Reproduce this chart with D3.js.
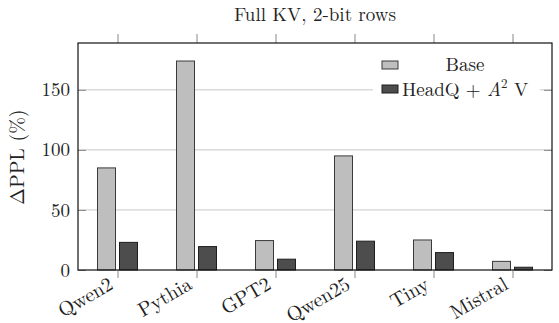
<!DOCTYPE html>
<html>
<head>
<meta charset="utf-8">
<script src="https://cdn.jsdelivr.net/npm/d3@7"></script>
<style>
  body { margin: 0; background: #fff; }
  text { font-family: "Latin Modern Roman", "Liberation Serif", serif; fill: #222; }
</style>
</head>
<body>
<svg width="559" height="323"></svg>
<script>
var models = ["Qwen2", "Pythia", "GPT2", "Qwen25", "Tiny", "Mistral"];
var baseVals = [85, 174, 24.5, 95, 25, 7.2];
var headqVals = [23, 19.5, 9, 24, 14.5, 2.3];
var seriesNames = ["Base", "HeadQ"];
var yTicks = [0, 50, 100, 150];

var svg = d3.select("svg"),
    pLeft = 78, pRight = 552, pTop = 43, pBottom = 270;

var x = d3.scaleLinear().domain([-0.5, models.length - 0.5]).range([pLeft, pRight]);
var y = d3.scaleLinear().domain([0, 189]).range([pBottom, pTop]);
var inner = d3.scaleBand().domain(seriesNames).range([-20, 20]).paddingInner(0.1818);
var fills = { Base: "#bebebe", HeadQ: "#4d4d4d" };
var strokes = { Base: "#3a3a3a", HeadQ: "#1e1e1e" };

// grid
svg.append("g").selectAll("line")
    .data(yTicks.filter(function(d) { return d > 0; }))
    .enter().append("line")
    .attr("x1", pLeft).attr("x2", pRight)
    .attr("y1", function(d) { return y(d); }).attr("y2", function(d) { return y(d); })
    .style("stroke", "#c8c8c8").style("stroke-width", 1);

// bars
var rows = models.map(function(m, i) { return { i: i, Base: baseVals[i], HeadQ: headqVals[i] }; });
var grp = svg.append("g").selectAll("g").data(rows).enter().append("g")
    .attr("transform", function(d) { return "translate(" + x(d.i) + ",0)"; });
grp.selectAll("rect")
    .data(function(d) { return seriesNames.map(function(s) { return { s: s, v: d[s] }; }); })
    .enter().append("rect")
    .attr("x", function(d) { return inner(d.s); })
    .attr("width", inner.bandwidth())
    .attr("y", function(d) { return y(d.v); })
    .attr("height", function(d) { return y(0) - y(d.v); })
    .style("fill", function(d) { return fills[d.s]; })
    .style("stroke", function(d) { return strokes[d.s]; })
    .style("stroke-width", 1);

// axes
var yl = svg.append("g").attr("transform", "translate(" + pLeft + ",0)")
    .call(d3.axisLeft(y).tickValues(yTicks).tickSize(-8).tickPadding(8));
var yr = svg.append("g").attr("transform", "translate(" + pRight + ",0)")
    .call(d3.axisRight(y).tickValues(yTicks).tickSize(-8).tickFormat(""));
var xb = svg.append("g").attr("transform", "translate(0," + pBottom + ")")
    .call(d3.axisBottom(x).tickValues(d3.range(models.length)).tickSize(8).tickFormat(""));
var xt = svg.append("g").attr("transform", "translate(0," + pTop + ")")
    .call(d3.axisTop(x).tickValues(d3.range(models.length)).tickSize(9).tickFormat(""));

[yl, yr, xb, xt].forEach(function(a) {
  a.select(".domain").remove();
  a.selectAll(".tick line").style("stroke", "#888").style("stroke-width", 1);
});
yl.selectAll("text").style("font-size", "19px").style("font-family", null).style("fill", "#222");

// rotated category labels
svg.append("g").selectAll("text")
    .data(models)
    .enter().append("text")
    .attr("text-anchor", "end")
    .attr("transform", function(d, i) {
      return "translate(" + (x(i) - 3) + "," + (pBottom + 18) + ") rotate(-30)";
    })
    .style("font-size", "20px")
    .text(function(d) { return d; });

// frame
svg.append("rect").attr("x", pLeft).attr("y", pTop)
    .attr("width", pRight - pLeft).attr("height", pBottom - pTop)
    .style("fill", "none").style("stroke", "#111").style("stroke-width", 1.2);

// title and y label
svg.append("text").attr("x", 315).attr("y", 21)
    .attr("text-anchor", "middle").style("font-size", "19px")
    .text("Full KV, 2-bit rows");
svg.append("text")
    .attr("transform", "translate(24,157) rotate(-90)")
    .attr("text-anchor", "middle").style("font-size", "20px")
    .text("\u0394PPL (%)");

// legend
var lg = svg.append("g");
lg.append("rect").attr("x", 373).attr("y", 52).attr("width", 167).attr("height", 52)
    .style("fill", "#fff");
var lrows = [
  { s: "Base", y: 65 },
  { s: "HeadQ", y: 89 }
];
lg.selectAll("rect.sw").data(lrows).enter().append("rect").attr("class", "sw")
    .attr("x", 382).attr("y", function(d) { return d.y - 4; })
    .attr("width", 16).attr("height", 8)
    .style("fill", function(d) { return fills[d.s]; })
    .style("stroke", function(d) { return strokes[d.s]; });
lg.append("text").attr("x", 465).attr("y", 71).attr("text-anchor", "middle")
    .style("font-size", "19px").text("Base");
var t2 = lg.append("text").attr("x", 402).attr("y", 96).style("font-size", "19px");
t2.append("tspan").text("HeadQ + ");
t2.append("tspan").style("font-style", "italic").text("A");
t2.append("tspan").attr("dy", -8).style("font-size", "13px").text("2");
t2.append("tspan").attr("dy", 8).text(" V");
</script>
</body>
</html>
